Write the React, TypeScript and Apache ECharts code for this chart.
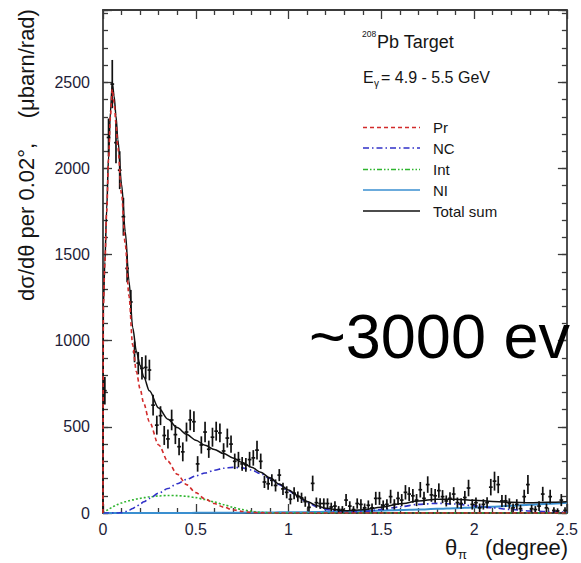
import React, { useEffect, useRef } from 'react';
import * as echarts from 'echarts';

// Angular distribution of the pi0 photoproduction on 208Pb, 0.02 degree bins.
const BIN_WIDTH = 0.02;

const counts = [
  710, 2180, 2490, 2150, 1990, 1720, 1420, 1225, 935, 870,
  840, 845, 830, 626, 510, 565, 450, 430, 540, 455,
  385, 355, 470, 540, 530, 285, 395, 470, 370, 440,
  475, 465, 360, 435, 400, 300, 310, 285, 280, 310,
  320, 365, 300, 180, 170, 190, 160, 220, 140, 120,
  80, 115, 95, 88, 66, 33, 172, 60, 55, 55,
  55, 35, 40, 20, 20, 75, 40, 20, 55, 50,
  30, 45, 30, 85, 85, 45, 50, 95, 50, 85,
  75, 120, 110, 100, 75, 135, 85, 165, 105, 100,
  130, 95, 70, 85, 110, 60, 55, 90, 145, 50,
  60, 30, 50, 60, 150, 185, 165, 70, 70, 55,
  30, 50, 25, 95, 165, 25, 20, 40, 110, 30,
  95, 15, 12, 75, 15,
];

const errors = [
  80, 110, 140, 120, 110, 110, 80, 70, 60, 65,
  65, 70, 60, 60, 55, 55, 55, 55, 60, 55,
  50, 55, 55, 60, 60, 45, 50, 60, 50, 55,
  55, 55, 45, 55, 50, 45, 45, 40, 40, 45,
  45, 55, 45, 35, 35, 35, 35, 35, 35, 35,
  30, 35, 30, 30, 30, 25, 45, 30, 30, 30,
  30, 25, 28, 20, 20, 35, 28, 20, 30, 30,
  25, 28, 25, 38, 38, 28, 30, 40, 30, 38,
  35, 42, 40, 40, 35, 45, 38, 48, 40, 40,
  42, 38, 32, 35, 40, 30, 30, 38, 48, 30,
  30, 25, 30, 32, 48, 55, 50, 35, 35, 30,
  25, 30, 22, 40, 55, 22, 20, 28, 42, 25,
  40, 18, 15, 35, 18,
];

// Fit components sampled along theta (degree)
const curveTheta = [
  0, 0.002, 0.01, 0.02, 0.03, 0.04, 0.05, 0.06, 0.07, 0.08,
  0.1, 0.12, 0.14, 0.16, 0.18, 0.2, 0.22, 0.25,
  0.3, 0.35, 0.4, 0.45, 0.5, 0.55, 0.6, 0.65, 0.7, 0.75, 0.8, 0.85, 0.9, 0.95, 1.0,
  1.05, 1.1, 1.15, 1.2,
  1.3, 1.4, 1.5, 1.6, 1.7, 1.8, 1.9, 2.0, 2.1, 2.2, 2.3, 2.4, 2.5,
];

const prCurve = [
  0, 1200, 1450, 1750, 2050, 2300, 2460, 2380, 2260, 2120,
  1850, 1560, 1260, 975, 820, 720, 635, 530,
  395, 300, 225, 165, 118, 82, 55, 34, 19, 9, 3, 1, 0, 0, 0,
  0, 0, 0, 0,
  0, 0, 0, 0, 0, 0, 0, 0, 0, 0, 0, 0, 0,
];

const ncCurve = [
  0, 0, 0, 0, 0, 0, 0, 0, 0, 0,
  2, 8, 16, 26, 38, 52, 65, 85,
  115, 142, 170, 195, 215, 232, 248, 260, 265, 262, 250, 228, 200, 165, 130,
  95, 62, 38, 20,
  4, 8, 20, 36, 50, 56, 52, 42, 30, 20, 12, 8, 5,
];

const intCurve = [
  0, 1, 8, 15, 22, 28, 34, 40, 45, 50,
  58, 65, 71, 76, 81, 85, 89, 94,
  99, 102, 101, 97, 89, 78, 64, 48, 33, 20, 10, 4, 1, 0, 0,
  0, 0, 0, 0,
  0, 0, 0, 0, 0, 0, 0, 0, 0, 0, 0, 0, 0,
];

const niCurve = [
  0, 0, 0, 0, 0, 0, 0, 0, 0, 0,
  0, 0, 0, 0, 0, 0, 0, 0,
  0, 0, 0, 0, 1, 1, 1, 2, 2, 2, 3, 3, 3, 4, 4,
  5, 5, 6, 7,
  9, 11, 14, 17, 20, 24, 28, 32, 37, 42, 48, 54, 60,
];

const totalCurve = [
  0, 1201, 1458, 1765, 2072, 2328, 2495, 2420, 2305, 2170,
  1910, 1633, 1347, 1077, 939, 857, 789, 709,
  609, 544, 496, 457, 423, 393, 369, 345, 320, 293, 266, 236, 204, 168, 134,
  100, 67, 44, 27,
  13, 19, 34, 53, 70, 80, 80, 74, 67, 62, 60, 62, 65,
];

const yTickLabels = [0, 500, 1000, 1500, 2000, 2500];
const legendNames = ['Pr', 'NC', 'Int', 'NI', 'Total sum'];

const FONT = "'Liberation Sans', Arial, Helvetica, sans-serif";
const AXIS_COLOR = '#3a3a3a';
const LABEL_COLOR = '#1d1d38';

const COLORS = {
  pr: '#d22b2b',
  nc: '#3030c8',
  int: '#2fb52f',
  ni: '#3a8fd0',
  total: '#111111',
};

const DASH = {
  pr: [4, 3],
  nc: [6, 3, 1.5, 3],
  int: [2, 2],
  legendInt: [5, 2, 1.5, 2, 1.5, 2],
};

function pairs(values: number[]) {
  return curveTheta.map((t, i) => [t, values[i]]);
}

function buildOption() {
  const tickStyle = { color: AXIS_COLOR, width: 1.3 };

  const xAxisOf = (position: 'bottom' | 'top') => ({
    type: 'value',
    min: 0,
    max: 2.5,
    interval: 0.5,
    position,
    axisLine: { show: true, onZero: false, lineStyle: { color: AXIS_COLOR, width: 1.8 } },
    axisTick: { show: true, inside: true, length: 9, lineStyle: tickStyle },
    minorTick: { show: true, splitNumber: 5, length: 5, lineStyle: tickStyle },
    splitLine: { show: false },
    minorSplitLine: { show: false },
    axisLabel:
      position === 'bottom'
        ? { show: true, color: LABEL_COLOR, fontSize: 16, fontFamily: FONT, margin: 8 }
        : { show: false },
  });

  const yAxisOf = (position: 'left' | 'right', major: boolean) => ({
    type: 'value',
    min: 0,
    max: 2920,
    interval: major ? 500 : 100,
    position,
    axisLine: {
      show: !major,
      onZero: false,
      lineStyle: { color: AXIS_COLOR, width: 1.8 },
    },
    axisTick: { show: true, inside: true, length: major ? 9 : 5, lineStyle: tickStyle },
    splitLine: { show: false },
    axisLabel:
      position === 'left' && !major
        ? {
            show: true,
            color: LABEL_COLOR,
            fontSize: 16,
            fontFamily: FONT,
            margin: 13,
            formatter: (v: number) => (yTickLabels.includes(v) ? String(v) : ''),
          }
        : { show: false },
  });

  const lineSeries = (name: string, values: number[], color: string, width: number, dash: any, z: number) => ({
    name,
    type: 'line',
    xAxisIndex: 0,
    yAxisIndex: 0,
    data: pairs(values),
    showSymbol: false,
    symbol: 'none',
    smooth: 0.3,
    smoothMonotone: 'x',
    clip: true,
    z,
    lineStyle: { color, width, type: dash },
    emphasis: { disabled: true },
  });

  const legendRows = [
    { y: 127.5, color: COLORS.pr, dash: DASH.pr, width: 1.4 },
    { y: 148, color: COLORS.nc, dash: DASH.nc, width: 1.4 },
    { y: 169.5, color: COLORS.int, dash: DASH.legendInt, width: 1.4 },
    { y: 190, color: COLORS.ni, dash: null, width: 1.6 },
    { y: 211, color: COLORS.total, dash: null, width: 1.6 },
  ];

  const textStyle = (text: string, size: number, extra: any = {}) => ({
    text,
    fontSize: size,
    fontFamily: FONT,
    fill: '#151515',
    align: 'left',
    verticalAlign: 'middle',
    textAlign: 'left',
    textVerticalAlign: 'middle',
    ...extra,
  });

  const graphics: any[] = [];
  legendRows.forEach((row, i) => {
    graphics.push({
      type: 'line',
      shape: { x1: 363, y1: row.y, x2: 420, y2: row.y },
      style: { stroke: row.color, lineWidth: row.width, lineDash: row.dash || undefined },
      silent: true,
    });
    graphics.push({
      type: 'text',
      x: 433,
      y: row.y,
      style: textStyle(legendNames[i], 15),
      silent: true,
    });
  });

  // Target and beam energy annotations
  graphics.push({ type: 'text', x: 362, y: 34, style: textStyle('208', 8.5), silent: true });
  graphics.push({ type: 'text', x: 377, y: 42, style: textStyle('Pb Target', 18), silent: true });
  graphics.push({ type: 'text', x: 363, y: 77.5, style: textStyle('E', 16), silent: true });
  graphics.push({ type: 'text', x: 374, y: 83, style: textStyle('γ', 10), silent: true });
  graphics.push({ type: 'text', x: 381, y: 77.5, style: textStyle('= 4.9 - 5.5 GeV', 16), silent: true });

  // Axis titles
  graphics.push({
    type: 'text',
    x: 26,
    y: 155,
    rotation: Math.PI / 2,
    style: textStyle('dσ/dθ per 0.02°,    (μbarn/rad)', 22, {
      align: 'center',
      textAlign: 'center',
    }),
    silent: true,
  });
  graphics.push({ type: 'text', x: 445, y: 547, style: textStyle('θ', 22), silent: true });
  graphics.push({ type: 'text', x: 458, y: 554, style: textStyle('π', 13), silent: true });
  graphics.push({ type: 'text', x: 485, y: 547, style: textStyle('(degree)', 22), silent: true });

  // Event count note
  graphics.push({
    type: 'text',
    x: 309,
    y: 336,
    style: textStyle('~3000 ev', 63, { fill: '#000' }),
    silent: true,
    z: 100,
  });

  const points = counts.map((v, i) => [0.01 + BIN_WIDTH * i, v, errors[i]]);

  return {
    animation: false,
    backgroundColor: '#ffffff',
    grid: { left: 103, right: 12, top: 10, bottom: 50, containLabel: false },
    xAxis: [xAxisOf('bottom'), xAxisOf('top')],
    yAxis: [yAxisOf('left', false), yAxisOf('left', true), yAxisOf('right', false), yAxisOf('right', true)],
    series: [
      lineSeries('NI', niCurve, COLORS.ni, 2, 'solid', 2),
      lineSeries('Int', intCurve, COLORS.int, 1.6, DASH.int, 3),
      lineSeries('NC', ncCurve, COLORS.nc, 1.6, DASH.nc, 4),
      lineSeries('Total sum', totalCurve, COLORS.total, 1.5, 'solid', 5),
      {
        name: 'data',
        type: 'custom',
        xAxisIndex: 0,
        yAxisIndex: 0,
        clip: true,
        z: 6,
        encode: { x: 0, y: 1 },
        data: points,
        renderItem: (_params: any, api: any) => {
          const t = api.value(0);
          const v = api.value(1);
          const e = api.value(2);
          const top = api.coord([t, v + e]);
          const bot = api.coord([t, Math.max(v - e, 0)]);
          const left = api.coord([t - BIN_WIDTH / 2, v]);
          const right = api.coord([t + BIN_WIDTH / 2, v]);
          const style = { stroke: '#111', lineWidth: 1.7 };
          return {
            type: 'group',
            children: [
              { type: 'line', shape: { x1: top[0], y1: top[1], x2: bot[0], y2: bot[1] }, style },
              { type: 'line', shape: { x1: left[0], y1: left[1], x2: right[0], y2: right[1] }, style },
            ],
          };
        },
      },
      lineSeries('Pr', prCurve, COLORS.pr, 1.6, DASH.pr, 7),
    ],
    graphic: { elements: graphics },
  };
}

export default function App() {
  const ref = useRef<HTMLDivElement>(null);

  useEffect(() => {
    if (!ref.current) return;
    const chart = echarts.init(ref.current, undefined, { renderer: 'svg' });
    chart.setOption(buildOption() as any);
    return () => chart.dispose();
  }, []);

  return (
    <div
      ref={ref}
      style={{ position: 'fixed', left: 0, top: 0, width: 581, height: 563, background: '#fff' }}
    />
  );
}
